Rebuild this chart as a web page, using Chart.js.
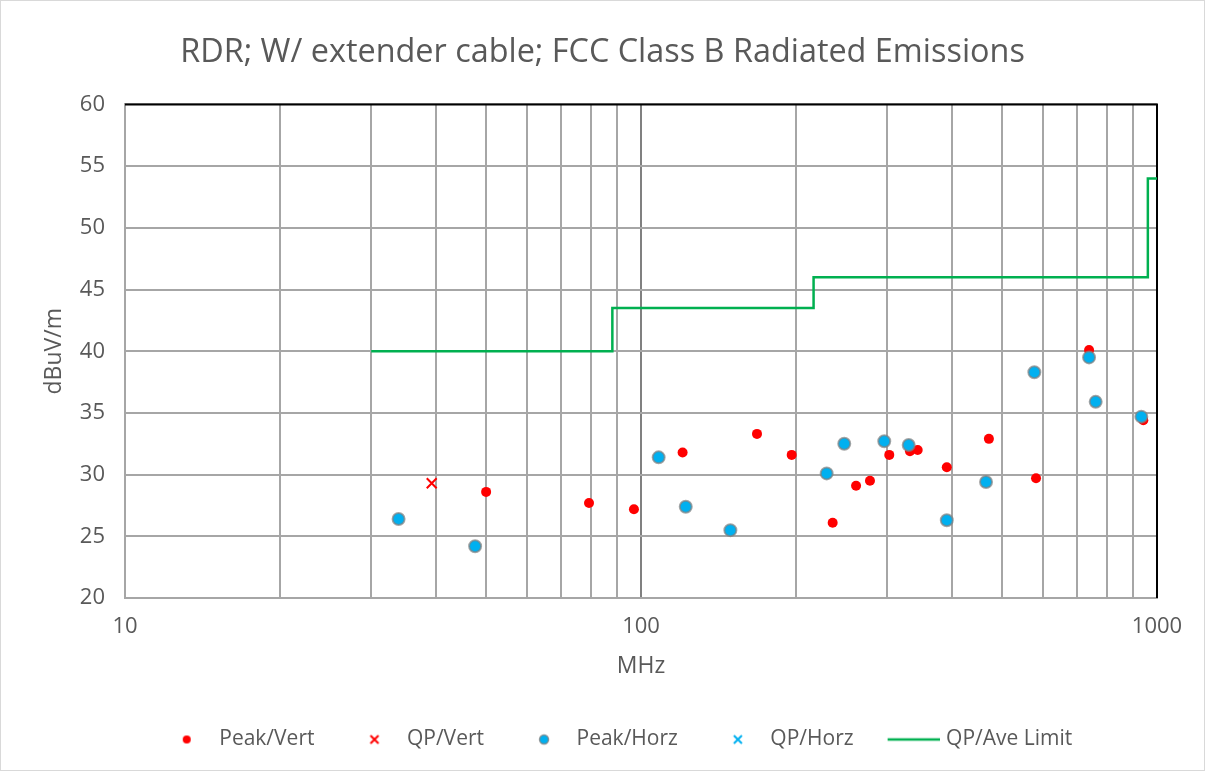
<!DOCTYPE html>
<html>
<head>
<meta charset="utf-8">
<script src="https://cdn.jsdelivr.net/npm/chart.js@4.4.1/dist/chart.umd.min.js"></script>
<style>
  html, body { margin: 0; padding: 0; background: #fff; }
  #wrap { width: 1205px; height: 771px; }
</style>
</head>
<body>
<div id="wrap"><canvas id="chart" width="1205" height="771"></canvas></div>
<script>
// values (MHz, dBuV/m)
const peakVertFreq  = [50.1, 79.3, 96.9, 120.4, 167.8, 195.9, 235.2, 261.1, 277.8, 302.8, 332.1, 343.7, 391.4, 472.3, 582.9, 738.5, 940.8];
const peakVertLevel = [28.6, 27.7, 27.2, 31.8, 33.3, 31.6, 26.1, 29.1, 29.5, 31.6, 31.9, 32.0, 30.6, 32.9, 29.7, 40.1, 34.4];

const qpVertFreq  = [39.3];
const qpVertLevel = [29.3];

const peakHorzFreq  = [33.9, 47.7, 108.2, 122.1, 149.0, 229.0, 247.7, 296.1, 330.2, 391.4, 466.3, 578.5, 738.5, 760.6, 932.4];
const peakHorzLevel = [26.4, 24.2, 31.4, 27.4, 25.5, 30.1, 32.5, 32.7, 32.4, 26.3, 29.4, 38.3, 39.5, 35.9, 34.7];

const qpHorzFreq  = [];
const qpHorzLevel = [];

const limitFreq  = [30, 88, 88, 216, 216, 960, 960, 1000];
const limitLevel = [40, 40, 43.5, 43.5, 46, 46, 54, 54];

const xGridTicks = [10, 20, 30, 40, 50, 60, 70, 80, 90, 100, 200, 300, 400, 500, 600, 700, 800, 900, 1000];
const xLabelTicks = [10, 100, 1000];
const seriesNames = ['Peak/Vert', 'QP/Vert', 'Peak/Horz', 'QP/Horz', 'QP/Ave Limit'];

const RED = '#ff0000';
const BLUE = '#00b0f0';
const GREEN = '#00b050';
const TEXT = '#595959';
const GRID = '#a6a6a6';
const FONT = "'Open Sans', sans-serif";

const toPoints = (xs, ys) => xs.map((x, i) => ({ x: x, y: ys[i] }));

// legend symbols as small canvases so spacing matches the original
// (canvas is 84 wide, drawn centred on a 76 px legend box)
function legendSymbol(kind) {
    const c = document.createElement('canvas');
    c.width = 84; c.height = 14;
    const g = c.getContext('2d');
    const cx = 58, cy = 7;
    if (kind === 'redDot') {
        g.fillStyle = RED;
        g.beginPath(); g.arc(cx, cy, 4, 0, Math.PI * 2); g.fill();
    } else if (kind === 'blueDot') {
        g.fillStyle = BLUE;
        g.strokeStyle = 'rgba(128,128,128,0.8)';
        g.lineWidth = 1.5;
        g.beginPath(); g.arc(cx, cy, 4.5, 0, Math.PI * 2); g.fill(); g.stroke();
    } else if (kind === 'redX' || kind === 'blueX') {
        g.strokeStyle = kind === 'redX' ? RED : BLUE;
        g.lineWidth = 2;
        g.beginPath();
        g.moveTo(cx - 4, cy - 4); g.lineTo(cx + 4, cy + 4);
        g.moveTo(cx + 4, cy - 4); g.lineTo(cx - 4, cy + 4);
        g.stroke();
    } else {
        g.strokeStyle = GREEN;
        g.lineWidth = 2.5;
        g.beginPath(); g.moveTo(32, cy); g.lineTo(84, cy); g.stroke();
    }
    return c;
}
const legendSymbols = ['redDot', 'redX', 'blueDot', 'blueX', 'line'].map(legendSymbol);

const framePlugin = {
    id: 'frame',
    beforeDraw(chart) {
        const ctx = chart.ctx;
        ctx.save();
        ctx.fillStyle = '#fff';
        ctx.fillRect(0, 0, chart.width, chart.height);
        ctx.restore();
    },
    beforeDatasetsDraw(chart) {
        const { ctx, chartArea: a } = chart;
        ctx.save();
        ctx.strokeStyle = '#000';
        ctx.lineWidth = 2;
        ctx.beginPath();
        ctx.moveTo(a.left, a.top);
        ctx.lineTo(a.right, a.top);
        ctx.lineTo(a.right, a.bottom);
        ctx.stroke();
        ctx.restore();
    },
    afterDraw(chart) {
        const ctx = chart.ctx;
        ctx.save();
        ctx.strokeStyle = '#d9d9d9';
        ctx.lineWidth = 1;
        ctx.strokeRect(0.5, 0.5, chart.width - 1, chart.height - 1);
        ctx.restore();
    }
};

new Chart(document.getElementById('chart'), {
    type: 'scatter',
    data: {
        datasets: [
            {
                label: seriesNames[0],
                data: toPoints(peakVertFreq, peakVertLevel),
                backgroundColor: RED,
                borderColor: RED,
                borderWidth: 0,
                pointRadius: 5,
                order: 3
            },
            {
                label: seriesNames[1],
                data: toPoints(qpVertFreq, qpVertLevel),
                pointStyle: 'crossRot',
                borderColor: RED,
                borderWidth: 2,
                pointRadius: 7,
                order: 2
            },
            {
                label: seriesNames[2],
                data: toPoints(peakHorzFreq, peakHorzLevel),
                backgroundColor: BLUE,
                borderColor: 'rgba(128,128,128,0.7)',
                borderWidth: 2,
                pointRadius: 6,
                order: 1
            },
            {
                label: seriesNames[3],
                data: toPoints(qpHorzFreq, qpHorzLevel),
                pointStyle: 'crossRot',
                borderColor: BLUE,
                borderWidth: 2,
                pointRadius: 7,
                order: 0
            },
            {
                label: seriesNames[4],
                data: toPoints(limitFreq, limitLevel),
                showLine: true,
                borderColor: GREEN,
                borderWidth: 2.5,
                pointRadius: 0,
                fill: false,
                order: 4
            }
        ]
    },
    options: {
        responsive: false,
        animation: false,
        layout: { padding: { left: 0, right: 0, top: 0, bottom: 11 } },
        scales: {
            x: {
                type: 'logarithmic',
                min: 10,
                max: 1000,
                afterBuildTicks: (scale) => {
                    scale.ticks = xGridTicks.map(v => ({ value: v }));
                },
                afterFit: (scale) => { scale.height = 125; },
                ticks: {
                    autoSkip: false,
                    maxRotation: 0,
                    padding: 16,
                    color: TEXT,
                    font: { family: FONT, size: 22 },
                    callback: (v) => xLabelTicks.includes(v) ? String(v) : ''
                },
                grid: {
                    drawTicks: false,
                    lineWidth: 2,
                    color: (c) => (c.tick && xLabelTicks.includes(c.tick.value)) ? '#808080' : GRID
                },
                border: { color: GRID, width: 2 },
                title: {
                    display: true,
                    text: 'MHz',
                    color: TEXT,
                    font: { family: FONT, size: 23 },
                    padding: { top: 0, bottom: 43 }
                }
            },
            y: {
                min: 20,
                max: 60,
                afterFit: (scale) => { scale.width = 125; },
                ticks: {
                    stepSize: 5,
                    padding: 20,
                    color: TEXT,
                    font: { family: FONT, size: 22 }
                },
                grid: { drawTicks: false, lineWidth: 2, color: GRID },
                border: { color: GRID, width: 2 },
                title: {
                    display: true,
                    text: 'dBuV/m',
                    color: TEXT,
                    font: { family: FONT, size: 23 },
                    padding: { top: 41, bottom: 0 }
                }
            },
            // empty right-hand margin, keeps title and legend centred on the full width
            yRight: {
                type: 'linear',
                position: 'right',
                display: true,
                afterFit: (scale) => { scale.width = 48; },
                ticks: { display: false },
                grid: { display: false, drawTicks: false },
                border: { display: false }
            }
        },
        plugins: {
            title: {
                display: true,
                text: 'RDR; W/ extender cable; FCC Class B Radiated Emissions',
                color: TEXT,
                font: { family: FONT, size: 32.4, weight: 'normal' },
                padding: { top: 33, bottom: 32.6 }
            },
            legend: {
                position: 'bottom',
                onClick: null,
                labels: {
                    usePointStyle: true,
                    pointStyleWidth: 76,
                    boxHeight: 14,
                    padding: 6,
                    color: TEXT,
                    font: { family: FONT, size: 21 },
                    generateLabels: () => seriesNames.map((name, i) => ({
                        text: name,
                        pointStyle: legendSymbols[i],
                        fontColor: TEXT,
                        fillStyle: 'transparent',
                        strokeStyle: 'transparent',
                        lineWidth: 0,
                        hidden: false,
                        datasetIndex: i
                    }))
                }
            },
            tooltip: { enabled: false }
        }
    },
    plugins: [framePlugin]
});
</script>
</body>
</html>
